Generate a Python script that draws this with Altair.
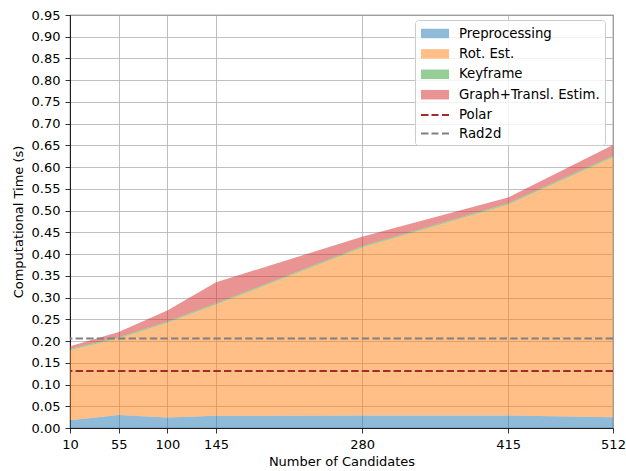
import altair as alt
import pandas as pd

# ---- data ----
candidates = [10, 55, 100, 145, 280, 415, 512]
preprocessing = [0.018, 0.030, 0.024, 0.028, 0.029, 0.029, 0.025]
rot_est = [0.161, 0.176, 0.218, 0.256, 0.386, 0.485, 0.598]
keyframe = [0.003, 0.003, 0.003, 0.003, 0.003, 0.003, 0.003]
graph_transl = [0.006, 0.012, 0.025, 0.048, 0.022, 0.013, 0.025]

polar_time = 0.131
rad2d_time = 0.206

x_ticks = [10, 55, 100, 145, 280, 415, 512]
y_ticks = [0.00, 0.05, 0.10, 0.15, 0.20, 0.25, 0.30, 0.35, 0.40, 0.45,
           0.50, 0.55, 0.60, 0.65, 0.70, 0.75, 0.80, 0.85, 0.90, 0.95]

area_names = ["Preprocessing", "Rot. Est.", "Keyframe", "Graph+Transl. Estim."]
area_colors = ["#1f77b4", "#ff7f0e", "#2ca02c", "#d62728"]
line_names = ["Polar", "Rad2d"]
line_colors = ["#a52a2a", "#808080"]
legend_colors = ["#8fbbd9", "#ffbf86", "#95cf95", "#ea9393", "#a52a2a", "#808080"]

# legend glyphs (unit = 7.5 px for symbolSize 225)
rect_shape = "M-1,-0.633H2.733V0.633H-1Z"
dash_shape = ("M-1,-0.133H0V0.133H-1Z M0.4,-0.133H1.333V0.133H0.4Z "
              "M1.8,-0.133H2.733V0.133H1.8Z")
legend_shapes = [rect_shape, rect_shape, rect_shape, rect_shape, dash_shape, dash_shape]

# ---- tables ----
series_values = [preprocessing, rot_est, keyframe, graph_transl]
rows = []
for idx, (name, vals) in enumerate(zip(area_names, series_values)):
    for c, v in zip(candidates, vals):
        rows.append({"candidates": c, "time": v, "series": name, "idx": idx})
df_area = pd.DataFrame(rows)

df_lines = pd.DataFrame({"series": line_names, "time": [polar_time, rad2d_time]})
all_names = area_names + line_names
df_legend = pd.DataFrame({"series": all_names})

FONT = "DejaVu Sans"

y_scale = alt.Scale(domain=[0, 0.95], nice=False)
y_axis = alt.Axis(values=y_ticks, format=".2f", title="Computational Time (s)",
                  titlePadding=6, labelOverlap=False)

areas = alt.Chart(df_area).mark_area(opacity=0.5).encode(
    x=alt.X("candidates:Q",
            scale=alt.Scale(domain=[10, 512], nice=False, zero=False),
            axis=alt.Axis(values=x_ticks, title="Number of Candidates",
                          titlePadding=4, labelOverlap=False)),
    y=alt.Y("time:Q", stack="zero", scale=y_scale, axis=y_axis),
    fill=alt.Fill("series:N",
                  scale=alt.Scale(domain=area_names, range=area_colors),
                  legend=None),
    order=alt.Order("idx:Q"),
)

rules = alt.Chart(df_lines).mark_rule(strokeWidth=2, strokeDash=[7.4, 3.2]).encode(
    y=alt.Y("time:Q", scale=y_scale, axis=y_axis),
    stroke=alt.Stroke("series:N",
                      scale=alt.Scale(domain=line_names, range=line_colors),
                      legend=None),
)

legend_layer = alt.Chart(df_legend).mark_point(filled=True, opacity=1).encode(
    color=alt.Color("series:N",
                    scale=alt.Scale(domain=all_names, range=legend_colors),
                    legend=alt.Legend(title=None)),
    shape=alt.Shape("series:N",
                    scale=alt.Scale(domain=all_names, range=legend_shapes),
                    legend=alt.Legend(title=None)),
).transform_filter("false")

chart = alt.layer(areas, rules, legend_layer).properties(
    width=543,
    height=413,
    autosize=alt.AutoSizeParams(type="none"),
    padding={"left": 70, "top": 15, "right": 13, "bottom": 43},
).configure_view(
    stroke="black", strokeWidth=0.8
).configure_axis(
    domainColor="black", domainWidth=0.8,
    tickColor="black", tickWidth=0.8, tickSize=5,
    labelColor="black", labelFont=FONT, labelFontSize=13, labelPadding=5,
    labelFlush=False,
    titleColor="black", titleFont=FONT, titleFontSize=13, titleFontWeight="normal",
    gridColor="#b0b0b0", gridWidth=0.8, grid=True,
).configure_legend(
    orient="none", legendX=345, legendY=5,
    fillColor="rgba(255,255,255,0.8)", strokeColor="#cccccc", cornerRadius=3,
    padding=5, labelFont=FONT, labelFontSize=13.3, labelColor="black",
    symbolSize=225, rowPadding=3.4, labelOffset=22, symbolOpacity=1,
    labelLimit=300,
)

chart.save("out.html", embed_options={"renderer": "svg", "actions": False})
